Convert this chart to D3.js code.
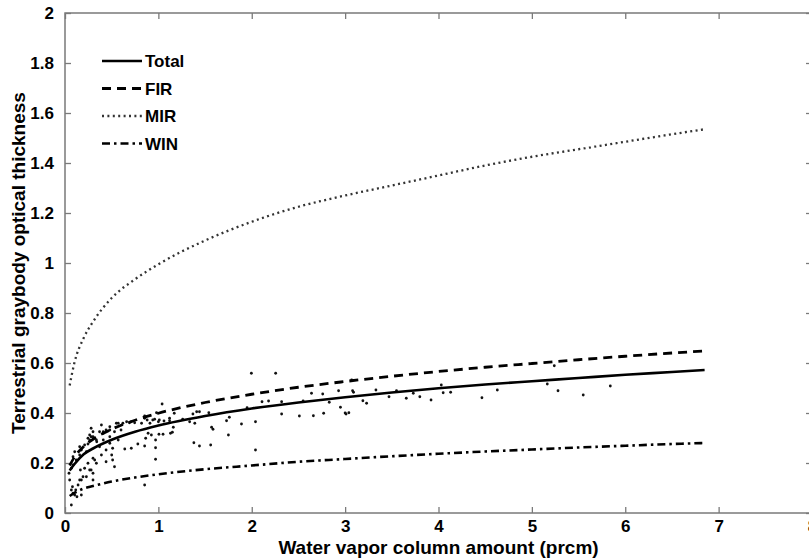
<!DOCTYPE html>
<html>
<head>
<meta charset="utf-8">
<script src="https://cdn.jsdelivr.net/npm/d3@7/dist/d3.min.js"></script>
<style>
	body { margin: 0; background: #fff; }
	svg { display: block; font-family: "Liberation Sans", Arial, sans-serif; }
</style>
</head>
<body>
<div id="chart"></div>
<script>
'use strict';

// fitted curves
var curveX = [0.05, 0.1, 0.2, 0.3, 0.5, 0.75, 1, 1.5, 2, 2.5, 3, 3.5, 4, 4.5, 5, 5.5, 6, 6.5, 6.85];
var totalY = [0.17, 0.195, 0.235, 0.258, 0.293, 0.325, 0.35, 0.388, 0.418, 0.442, 0.463, 0.482, 0.499, 0.514, 0.527, 0.540, 0.553, 0.564, 0.572];
var firY = [0.19, 0.223, 0.266, 0.295, 0.335, 0.371, 0.399, 0.442, 0.475, 0.503, 0.526, 0.547, 0.566, 0.583, 0.598, 0.613, 0.627, 0.640, 0.648];
var mirY = [0.51, 0.60, 0.70, 0.765, 0.86, 0.935, 0.995, 1.09, 1.165, 1.225, 1.27, 1.31, 1.35, 1.39, 1.425, 1.455, 1.485, 1.515, 1.535];
var winY = [0.068, 0.08, 0.098, 0.108, 0.126, 0.142, 0.155, 0.175, 0.19, 0.205, 0.216, 0.227, 0.237, 0.246, 0.254, 0.262, 0.269, 0.276, 0.28];

// observed points
var obsX = [0.043, 0.05, 0.068, 0.068, 0.068, 0.08, 0.086, 0.086, 0.086, 0.104, 0.104, 0.115, 0.12, 0.128, 0.14, 0.157, 0.157, 0.157, 0.165, 0.175,
	0.175, 0.175, 0.193, 0.21, 0.21, 0.229, 0.229, 0.246, 0.246, 0.246, 0.264, 0.264, 0.264, 0.28, 0.28, 0.28, 0.30, 0.30, 0.30, 0.30,
	0.30, 0.318, 0.336, 0.336, 0.34, 0.37, 0.37, 0.39, 0.39, 0.41, 0.41, 0.41, 0.44, 0.44, 0.44, 0.48, 0.48, 0.48, 0.48, 0.50,
	0.51, 0.51, 0.53, 0.53, 0.55, 0.57, 0.57, 0.60, 0.62, 0.64, 0.66, 0.69, 0.71, 0.71, 0.746, 0.78, 0.82, 0.853, 0.853, 0.853,
	0.853, 0.864, 0.88, 0.89, 0.91, 0.925, 0.94, 0.96, 0.97, 0.97, 0.97, 0.98,
	1.0, 1.006, 1.01, 1.04, 1.05, 1.06, 1.12, 1.12, 1.13, 1.15, 1.16, 1.17, 1.26, 1.335, 1.37, 1.38, 1.39, 1.41, 1.44, 1.44,
	1.54, 1.56, 1.57, 1.585, 1.73, 1.75, 1.76, 1.89, 1.95, 1.996, 2.04, 2.04, 2.11, 2.18, 2.256, 2.32, 2.32, 2.51,
	2.55, 2.64, 2.66, 2.76, 2.77, 2.83, 2.93, 2.95, 3.0, 3.01, 3.04, 3.07, 3.08, 3.09, 3.19, 3.23, 3.33, 3.47, 3.55, 3.655,
	3.73, 3.80, 3.92, 4.03, 4.05, 4.13, 4.465, 4.63, 5.165, 5.24, 5.28, 5.55, 5.84];
var obsY = [0.159, 0.132, 0.032, 0.179, 0.092, 0.105, 0.079, 0.192, 0.225, 0.245, 0.072, 0.092, 0.212, 0.065, 0.112, 0.132, 0.232, 0.265, 0.172, 0.072,
	0.252, 0.132, 0.145, 0.179, 0.272, 0.245, 0.145, 0.276, 0.199, 0.299, 0.312, 0.172, 0.292, 0.339, 0.305, 0.172, 0.305, 0.219, 0.159, 0.325,
	0.132, 0.212, 0.199, 0.292, 0.285, 0.265, 0.325, 0.232, 0.352, 0.319, 0.292, 0.325, 0.252, 0.205, 0.332, 0.305, 0.279, 0.345, 0.332, 0.232,
	0.212, 0.259, 0.185, 0.325, 0.359, 0.292, 0.359, 0.332, 0.359, 0.256, 0.365, 0.361, 0.259, 0.365, 0.361, 0.276, 0.359, 0.268, 0.388, 0.379,
	0.112, 0.299, 0.372, 0.319, 0.359, 0.312, 0.372, 0.375, 0.292, 0.261, 0.215, 0.401,
	0.365, 0.315, 0.372, 0.436, 0.315, 0.368, 0.369, 0.379, 0.319, 0.323, 0.343, 0.399, 0.375, 0.365, 0.396, 0.281, 0.359, 0.405, 0.405, 0.268,
	0.401, 0.272, 0.343, 0.335, 0.369, 0.312, 0.383, 0.356, 0.421, 0.559, 0.365, 0.252, 0.445, 0.448, 0.559, 0.445, 0.396, 0.388,
	0.448, 0.479, 0.389, 0.476, 0.399, 0.443, 0.489, 0.423, 0.40, 0.396, 0.401, 0.532, 0.489, 0.483, 0.449, 0.439, 0.492, 0.465, 0.489, 0.459,
	0.479, 0.465, 0.452, 0.512, 0.481, 0.483, 0.461, 0.492, 0.516, 0.589, 0.489, 0.472, 0.508];

var seriesNames = ['Total', 'FIR', 'MIR', 'WIN'];
var xTicks = [0, 1, 2, 3, 4, 5, 6, 7, 8];
var yTicks = [0, 0.2, 0.4, 0.6, 0.8, 1, 1.2, 1.4, 1.6, 1.8, 2];

var width = 809;
var height = 560;
var margin = {top: 13, right: -3, bottom: 47, left: 65};
var axisColor = '#7a7a7a';

var styles = {
	Total: {dash: null, width: 2.6, color: '#000'},
	FIR: {dash: '9,6', width: 2.8, color: '#000'},
	MIR: {dash: '2,3.4', width: 2.3, color: '#333'},
	WIN: {dash: '8,4,2.5,4', width: 2.6, color: '#000'}
};

var x = d3.scaleLinear().domain([0, 8]).range([margin.left, width - margin.right]);
var y = d3.scaleLinear().domain([0, 2]).range([height - margin.bottom, margin.top]);

var svg = d3.select('#chart').append('svg')
	.attr('width', width)
	.attr('height', height);

// frame
svg.append('rect')
	.attr('x', x(0)).attr('y', y(2))
	.attr('width', x(8) - x(0)).attr('height', y(0) - y(2))
	.attr('fill', 'none')
	.attr('stroke', axisColor)
	.attr('stroke-width', 1.5);

function styleAxis(g){
	g.select('.domain').remove();
	g.selectAll('.tick line').attr('stroke', axisColor).attr('stroke-width', 1.3);
	g.selectAll('.tick text')
		.attr('fill', '#000')
		.style('font-family', '"Liberation Sans", Arial, sans-serif')
		.style('font-weight', 'bold')
		.style('font-size', '17px');
}

svg.append('g')
	.attr('transform', 'translate(0,' + y(0) + ')')
	.call(d3.axisBottom(x).tickValues(xTicks).tickFormat(d3.format('d')).tickSizeInner(-6).tickPadding(7))
	.call(styleAxis);

svg.append('g')
	.attr('transform', 'translate(0,' + y(2) + ')')
	.call(d3.axisTop(x).tickValues(xTicks).tickFormat('').tickSizeInner(-6))
	.call(styleAxis);

svg.append('g')
	.attr('transform', 'translate(' + x(0) + ',0)')
	.call(d3.axisLeft(y).tickValues(yTicks).tickFormat(d3.format('~g')).tickSizeInner(-6).tickPadding(11))
	.call(styleAxis);

svg.append('g')
	.attr('transform', 'translate(' + x(8) + ',0)')
	.call(d3.axisRight(y).tickValues(yTicks).tickFormat('').tickSizeInner(-6))
	.call(styleAxis);

// axis titles
svg.append('text')
	.attr('x', (x(0) + x(8)) / 2)
	.attr('y', 554)
	.attr('text-anchor', 'middle')
	.style('font-weight', 'bold')
	.style('font-size', '19px')
	.text('Water vapor column amount (prcm)');

svg.append('text')
	.attr('transform', 'translate(25,' + (y(0) + y(2)) / 2 + ') rotate(-90)')
	.attr('text-anchor', 'middle')
	.style('font-weight', 'bold')
	.style('font-size', '19px')
	.text('Terrestrial graybody optical thickness');

// scatter
var pts = obsX.map(function(d, i){ return [d, obsY[i]]; });
svg.append('g').selectAll('circle')
	.data(pts)
	.enter().append('circle')
	.attr('cx', function(d){ return x(d[0]); })
	.attr('cy', function(d){ return y(d[1]); })
	.attr('r', 1.4)
	.attr('fill', '#111');

// curves
var line = d3.line()
	.x(function(d){ return x(d[0]); })
	.y(function(d){ return y(d[1]); })
	.curve(d3.curveMonotoneX);

var seriesY = {Total: totalY, FIR: firY, MIR: mirY, WIN: winY};

seriesNames.forEach(function(name){
	var s = styles[name];
	svg.append('path')
		.datum(curveX.map(function(d, i){ return [d, seriesY[name][i]]; }))
		.attr('d', line)
		.attr('fill', 'none')
		.attr('stroke', s.color)
		.attr('stroke-width', s.width)
		.attr('stroke-dasharray', s.dash);
});

// legend
var legend = svg.append('g').attr('transform', 'translate(102,61)');
seriesNames.forEach(function(name, i){
	var s = styles[name];
	var row = legend.append('g').attr('transform', 'translate(0,' + (i * 27.5) + ')');
	row.append('line')
		.attr('x1', 0).attr('x2', 40)
		.attr('stroke', s.color)
		.attr('stroke-width', s.width)
		.attr('stroke-dasharray', s.dash);
	row.append('text')
		.attr('x', 43)
		.attr('y', 6)
		.style('font-weight', 'bold')
		.style('font-size', '17px')
		.text(name);
});
</script>
</body>
</html>
